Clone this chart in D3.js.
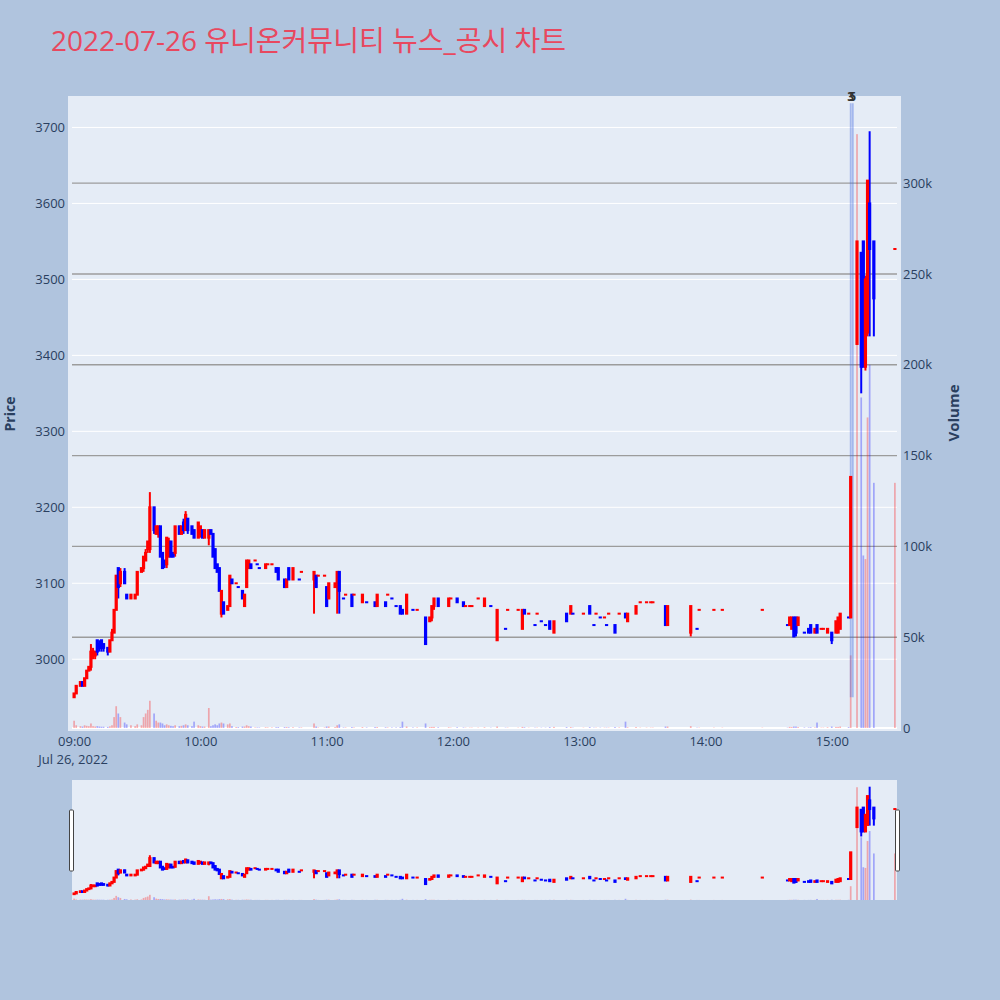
<!DOCTYPE html>
<html><head><meta charset="utf-8">
<script src="https://cdn.jsdelivr.net/npm/d3@7"></script>
<style>
body{margin:0;background:#b0c4de;}
svg{display:block;font-family:'Open Sans','Noto Sans CJK KR',sans-serif;}
</style>
</head><body>
<svg id="chart" width="1000" height="1000"></svg>
<script>
// ---------------- data ----------------
const chartTitle = "2022-07-26 유니온커뮤니티 뉴스_공시 차트";
const tradeDate = "2022-07-26";
const times = ["09:00","09:01","09:03","09:04","09:05","09:06","09:07","09:08","09:09","09:10","09:11","09:12","09:13","09:14","09:16","09:17","09:18","09:19","09:20","09:21","09:22","09:24","09:25","09:27","09:29","09:30","09:32","09:33","09:34","09:35","09:36","09:38","09:39","09:40","09:41","09:42","09:43","09:44","09:45","09:46","09:47","09:48","09:50","09:51","09:52","09:53","09:54","09:56","09:57","09:59","10:00","10:01","10:02","10:04","10:05","10:06","10:07","10:08","10:09","10:10","10:11","10:13","10:14","10:15","10:17","10:18","10:20","10:21","10:22","10:23","10:24","10:26","10:27","10:28","10:31","10:32","10:34","10:36","10:37","10:40","10:41","10:42","10:44","10:47","10:48","10:54","10:55","10:56","10:59","11:00","11:01","11:04","11:05","11:06","11:08","11:09","11:12","11:13","11:17","11:19","11:23","11:24","11:28","11:29","11:31","11:33","11:35","11:36","11:38","11:41","11:43","11:47","11:49","11:50","11:51","11:53","11:58","11:59","12:02","12:05","12:06","12:08","12:09","12:12","12:15","12:18","12:21","12:25","12:26","12:31","12:33","12:34","12:36","12:39","12:40","12:42","12:44","12:46","12:48","12:54","12:56","12:57","13:02","13:05","13:07","13:08","13:10","13:12","13:13","13:14","13:17","13:19","13:22","13:23","13:27","13:29","13:32","13:34","13:35","13:41","13:42","13:53","13:56","13:57","14:04","14:08","14:27","14:39","14:40","14:41","14:42","14:43","14:44","14:47","14:49","14:50","14:52","14:53","14:55","14:56","14:58","15:00","15:02","15:03","15:04","15:08","15:09","15:12","15:14","15:15","15:16","15:17","15:18","15:20","15:30"];
const opens  = [2950,2955,2965,2970,2965,2975,2985,2990,3005,3005,3025,3020,3025,3020,3015,3010,3025,3035,3065,3120,3100,3115,3085,3080,3080,3085,3115,3120,3130,3145,3145,3200,3165,3165,3175,3140,3130,3125,3135,3155,3140,3140,3175,3165,3180,3170,3185,3175,3170,3160,3165,3170,3160,3160,3170,3165,3145,3125,3120,3060,3075,3065,3070,3105,3100,3095,3090,3070,3095,3120,3125,3130,3125,3120,3120,3125,3125,3120,3120,3105,3095,3120,3105,3105,3115,3105,3110,3110,3110,3095,3080,3095,3095,3115,3080,3085,3085,3085,3075,3075,3075,3070,3075,3085,3080,3070,3070,3065,3060,3065,3065,3055,3050,3055,3070,3080,3070,3080,3080,3075,3070,3070,3070,3080,3070,3070,3025,3040,3065,3065,3040,3065,3060,3045,3060,3050,3045,3050,3035,3060,3060,3060,3060,3070,3045,3060,3055,3055,3045,3060,3045,3060,3060,3050,3060,3075,3075,3075,3075,3070,3045,3035,3040,3065,3065,3065,3065,3045,3045,3040,3055,3055,3045,3035,3040,3045,3035,3045,3040,3040,3035,3035,3035,3035,3040,3055,3055,3415,3535,3550,3385,3430,3600,3550,3540];
const highs  = [2955,2965,2970,2970,2975,2985,2990,3020,3015,3010,3025,3025,3025,3020,3015,3025,3040,3065,3110,3120,3120,3120,3085,3085,3085,3115,3120,3135,3145,3155,3220,3200,3175,3175,3175,3140,3130,3160,3160,3155,3140,3175,3175,3175,3185,3195,3185,3175,3170,3180,3175,3170,3170,3170,3170,3165,3145,3125,3120,3090,3075,3070,3110,3105,3100,3095,3090,3085,3130,3130,3125,3130,3125,3120,3125,3125,3125,3120,3120,3105,3105,3120,3120,3105,3115,3115,3110,3110,3110,3095,3100,3100,3115,3115,3080,3085,3085,3085,3085,3075,3075,3085,3075,3085,3080,3070,3070,3065,3085,3065,3065,3055,3055,3070,3080,3080,3080,3080,3080,3075,3070,3070,3070,3080,3080,3070,3065,3040,3065,3065,3065,3065,3060,3045,3060,3050,3045,3050,3050,3060,3070,3060,3060,3070,3045,3060,3055,3055,3045,3060,3045,3060,3060,3060,3070,3075,3075,3075,3075,3070,3070,3070,3040,3065,3065,3065,3065,3045,3055,3055,3055,3055,3055,3035,3040,3045,3040,3045,3040,3040,3040,3035,3050,3055,3060,3055,3240,3550,3535,3550,3505,3630,3695,3550,3540];
const lows   = [2950,2955,2965,2965,2965,2975,2985,2985,3000,3000,3005,3010,3010,3010,3005,3010,3025,3035,3065,3080,3095,3100,3080,3080,3080,3085,3115,3115,3130,3140,3140,3165,3165,3160,3135,3120,3120,3120,3135,3135,3135,3135,3165,3165,3165,3170,3165,3165,3160,3160,3160,3160,3160,3150,3165,3135,3120,3115,3090,3055,3060,3065,3070,3100,3100,3095,3080,3070,3095,3120,3120,3130,3125,3120,3120,3125,3125,3115,3105,3095,3095,3105,3105,3105,3115,3060,3095,3110,3110,3070,3080,3095,3060,3060,3080,3085,3070,3085,3075,3075,3070,3070,3070,3085,3080,3070,3060,3060,3060,3065,3065,3020,3050,3050,3065,3070,3070,3080,3075,3070,3070,3070,3070,3080,3070,3070,3025,3040,3065,3065,3040,3060,3060,3045,3060,3050,3045,3040,3035,3050,3060,3060,3060,3060,3045,3060,3055,3055,3045,3060,3035,3060,3055,3050,3060,3075,3075,3075,3075,3045,3045,3030,3040,3065,3065,3065,3065,3045,3045,3040,3030,3030,3045,3035,3035,3035,3035,3035,3040,3040,3035,3020,3035,3035,3040,3055,3055,3415,3350,3385,3380,3425,3425,3425,3540];
const closes = [2955,2965,2970,2965,2975,2985,2990,3010,3010,3010,3010,3015,3015,3015,3010,3025,3035,3065,3110,3095,3115,3100,3080,3085,3085,3115,3120,3135,3140,3155,3200,3170,3175,3175,3135,3120,3125,3160,3155,3135,3135,3175,3165,3175,3170,3190,3170,3165,3160,3180,3175,3160,3170,3170,3165,3135,3120,3115,3090,3090,3060,3070,3110,3100,3100,3095,3080,3085,3130,3130,3120,3130,3125,3120,3125,3125,3125,3115,3105,3095,3105,3105,3120,3105,3115,3115,3095,3110,3110,3070,3100,3100,3115,3090,3080,3085,3070,3085,3085,3075,3070,3085,3070,3085,3080,3070,3060,3060,3085,3065,3065,3020,3055,3070,3080,3070,3080,3080,3075,3070,3070,3070,3070,3080,3080,3070,3065,3040,3065,3065,3065,3060,3060,3045,3060,3050,3045,3040,3050,3050,3070,3060,3060,3060,3045,3060,3055,3055,3045,3060,3035,3060,3055,3060,3070,3075,3075,3075,3075,3045,3070,3070,3040,3065,3065,3065,3065,3045,3055,3055,3030,3035,3055,3035,3035,3035,3040,3035,3040,3040,3040,3025,3050,3055,3060,3055,3240,3550,3385,3385,3500,3630,3540,3475,3540];
const volumes= [4000,1500,1000,800,1500,1200,1000,2500,1000,800,1000,800,700,700,600,900,1500,6000,12000,8000,6000,3000,2000,1500,1000,2000,1500,6000,8000,10000,15000,8000,4000,3000,3000,2500,1500,2000,1500,1200,1000,1500,1000,1200,1500,2000,1500,1000,3500,1500,1000,800,800,11000,1000,1500,2000,1500,2500,3000,2500,2000,2500,1000,500,500,800,800,1500,1000,800,300,300,300,400,300,300,400,500,500,500,400,400,300,300,2500,800,300,300,800,800,500,1500,2000,300,300,500,300,500,300,500,500,400,300,300,300,500,3500,800,300,300,2500,500,600,600,400,400,200,400,300,200,200,200,200,400,200,800,200,200,200,600,400,200,200,200,200,200,500,600,500,500,200,200,500,200,200,200,200,200,200,500,300,3500,400,500,200,200,200,200,800,800,1000,200,200,200,200,200,200,600,500,800,800,500,300,300,400,300,3000,200,200,400,800,600,600,800,500,40000,327000,182000,95000,93000,171000,200000,135000,135000];
const newsTimes  = ["15:09","15:10"];
const newsLabels = ["3","5"];
const priceTicks = [3000,3100,3200,3300,3400,3500,3600,3700];
const volumeTicks = [0,50000,100000,150000,200000,250000,300000];

// ---------------- setup ----------------
const parse = d3.timeParse("%Y-%m-%d %H:%M");
const data = times.map((t,i)=>({t:parse(tradeDate+" "+t),o:opens[i],h:highs[i],l:lows[i],c:closes[i],v:volumes[i]}));
let prevC = null;
data.forEach(d=>{
  if (d.c>d.o) d.up=true; else if (d.c<d.o) d.up=false; else d.up = !(prevC!==null && prevC>d.c);
  prevC=d.c;
});
const UP="#ff0000", DOWN="#0000ff";
const UPV="rgba(255,0,0,0.3)", DOWNV="rgba(0,0,255,0.3)";

const svg = d3.select("#chart");
const tFirst = d3.min(data,d=>d.t), tLast = d3.max(data,d=>d.t);
const xDomain = [d3.timeMinute.offset(tFirst,-1), d3.timeMinute.offset(tLast,1)];
const x = d3.scaleTime().domain(xDomain).range([72,897]);
const yP = d3.scaleLinear().domain([2909.5,3741.4]).range([728,96]);
const yV = d3.scaleLinear().domain([0,348000]).range([728,96]);
const xs = d3.scaleTime().domain(xDomain).range([72,897]);
const yPs = d3.scaleLinear().domain(yP.domain()).range([900,780]);
const yVs = d3.scaleLinear().domain(yV.domain()).range([900,780]);

// title
svg.append("text").attr("x",51).attr("y",51).attr("font-size",28).attr("fill","#e8485f")
  .attr("textLength",515).attr("lengthAdjust","spacingAndGlyphs").text(chartTitle);

// plot bg
svg.append("rect").attr("x",68).attr("y",96).attr("width",833).attr("height",635).attr("fill","#e5ecf6");

// price grid
svg.append("g").selectAll("line").data(priceTicks).join("line")
  .attr("x1",72).attr("x2",897).attr("y1",d=>yP(d)).attr("y2",d=>yP(d))
  .attr("stroke","#ffffff").attr("stroke-width",1);
// volume grid
svg.append("g").selectAll("line").data(volumeTicks.filter(v=>v>0)).join("line")
  .attr("x1",72).attr("x2",897).attr("y1",d=>yV(d)).attr("y2",d=>yV(d))
  .attr("stroke","#9c9c9c").attr("stroke-width",1.4);
svg.append("line").attr("x1",72).attr("x2",897).attr("y1",yV(0)).attr("y2",yV(0))
  .attr("stroke","#ffffff").attr("stroke-width",2);

function drawPanel(g, xS, yPS, yVS, withNews){
  g.append("g").selectAll("rect").data(data).join("rect")
    .attr("x",d=>xS(d.t)-0.85).attr("width",1.7)
    .attr("y",d=>yVS(d.v)).attr("height",d=>yVS(0)-yVS(d.v))
    .attr("fill",d=>d.up?UPV:DOWNV);
  if (withNews){
    const lo = d3.min(lows), hi = d3.max(highs)*1.01;
    const ng = g.append("g");
    ng.selectAll("line").data(newsTimes).join("line")
      .attr("x1",d=>xS(parse(tradeDate+" "+d))).attr("x2",d=>xS(parse(tradeDate+" "+d)))
      .attr("y1",yPS(lo)).attr("y2",yPS(hi))
      .attr("stroke","rgba(65,105,225,0.4)").attr("stroke-width",1.8);
  }
  const cg = g.append("g");
  cg.selectAll("line").data(data).join("line")
    .attr("x1",d=>xS(d.t)).attr("x2",d=>xS(d.t))
    .attr("y1",d=>yPS(d.h)).attr("y2",d=>yPS(d.l))
    .attr("stroke",d=>d.up?UP:DOWN).attr("stroke-width",2);
  cg.selectAll("rect").data(data).join("rect")
    .attr("x",d=>xS(d.t)-1.6).attr("width",3.2)
    .attr("y",d=>yPS(Math.max(d.o,d.c))-1)
    .attr("height",d=>Math.abs(yPS(d.o)-yPS(d.c))+2)
    .attr("fill",d=>d.up?UP:DOWN);
  if (withNews){
    const hi = d3.max(highs)*1.01;
    g.append("g").selectAll("text").data(newsTimes).join("text")
      .attr("x",d=>xS(parse(tradeDate+" "+d))).attr("y",yPS(hi)-2)
      .attr("text-anchor","middle").attr("font-size",12).attr("font-weight","bold")
      .attr("fill","#333").text((d,i)=>newsLabels[i]);
  }
}
const mainG = svg.append("g");
drawPanel(mainG, x, yP, yV, true);

// axes
const tickColor = "#2a3f5f";
const xAxis = svg.append("g").attr("transform","translate(0,731)")
  .call(d3.axisBottom(x).ticks(d3.timeHour.every(1)).tickFormat(d3.timeFormat("%H:%M")).tickSize(0).tickPadding(6));
const yAxisL = svg.append("g").attr("transform","translate(68,0)")
  .call(d3.axisLeft(yP).tickValues(priceTicks).tickFormat(d3.format("d")).tickSize(0).tickPadding(3));
const yAxisR = svg.append("g").attr("transform","translate(901,0)")
  .call(d3.axisRight(yV).tickValues(volumeTicks).tickFormat(d3.format("~s")).tickSize(0).tickPadding(2));
[xAxis,yAxisL,yAxisR].forEach(a=>{
  a.select(".domain").remove();
  a.selectAll("text").attr("fill",tickColor).attr("font-size",13)
    .attr("font-family","'Open Sans','Noto Sans CJK KR',sans-serif");
});
svg.append("text").attr("x",x(parse(tradeDate+" 09:00"))-1).attr("y",764).attr("text-anchor","middle")
  .attr("font-size",13).attr("fill",tickColor).text(d3.timeFormat("%b %-d, %Y")(parse(tradeDate+" 09:00")));

svg.append("text").attr("transform","translate(15,414) rotate(-90)").attr("text-anchor","middle")
  .attr("font-size",14).attr("font-weight","bold").attr("fill",tickColor).text("Price");
svg.append("text").attr("transform","translate(959,413) rotate(-90)").attr("text-anchor","middle")
  .attr("font-size",15).attr("font-weight","bold").attr("fill",tickColor).text("Volume");

// range slider
svg.append("defs").append("clipPath").attr("id","sclip").append("rect")
  .attr("x",72).attr("y",780).attr("width",825).attr("height",120);
svg.append("rect").attr("x",72).attr("y",780).attr("width",825).attr("height",120).attr("fill","#e5ecf6");
const sg = svg.append("g").attr("clip-path","url(#sclip)");
drawPanel(sg, xs, yPs, yVs, false);
[xs.range()[0]-2.5, xs.range()[1]-1.5].forEach(hx=>{
  svg.append("rect").attr("x",hx).attr("y",810).attr("width",4).attr("height",61)
    .attr("fill","#ffffff").attr("stroke","#444").attr("stroke-width",1).attr("rx",1);
});
</script>
</body></html>
